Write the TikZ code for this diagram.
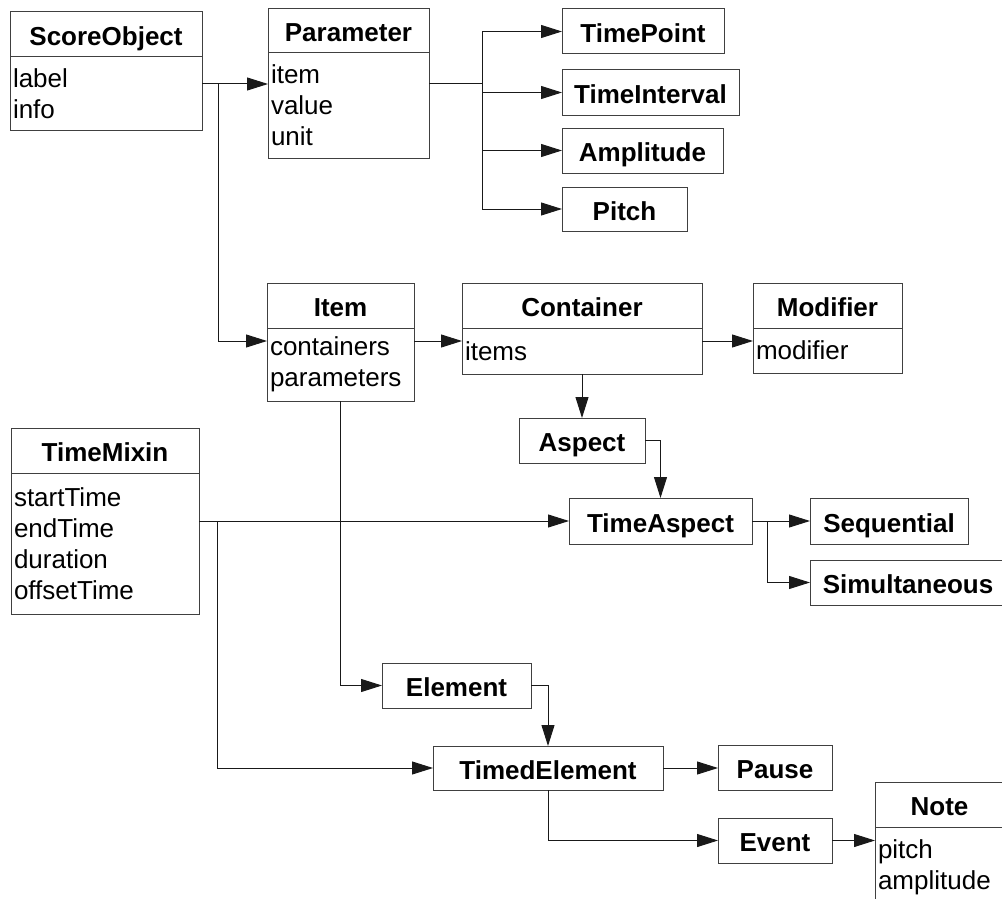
\documentclass[tikz,border=0pt]{standalone}
\usepackage{fontspec}
\setmainfont{Liberation Sans}
\usetikzlibrary{arrows.meta,positioning}

\begin{document}
\begin{tikzpicture}[x=1pt, y=-1pt, >={Triangle[length=21pt,width=13pt]},
    cls/.style={draw=black!75, line width=1pt, minimum height=45pt, inner sep=0pt, outer sep=0pt,
      text height=22pt, text depth=0pt,
      anchor=north west, font=\fontsize{26}{31}\selectfont\bfseries},
    attrs/.style={draw=black!75, line width=1pt, inner xsep=3pt, inner ysep=0pt, outer sep=0pt,
      align=left, font=\fontsize{26}{31}\selectfont},
    link/.style={draw=black!90, line width=1pt}]
    \useasboundingbox (0,0) rectangle (1002,899);
    \clip (0,0) rectangle (1002,899);

    % classes with attributes
    \node[cls, minimum width=192pt] (so) at (10,12) {ScoreObject};
    \node[attrs, text width=186pt, minimum height=73pt, below=0pt of so] (so-a) {label\\info\\[-3pt]};
    \node[cls, minimum width=161pt, minimum height=44pt] (par) at (268,9) {Parameter};
    \node[attrs, text width=155pt, minimum height=105pt, below=0pt of par] (par-a) {item\\value\\unit\\[-3pt]};
    \node[cls, minimum width=147pt] (item) at (267,283) {Item};
    \node[attrs, text width=141pt, minimum height=73pt, below=0pt of item] (item-a) {containers\\parameters};
    \node[cls, minimum width=240pt] (cont) at (462,283) {Container};
    \node[attrs, text width=234pt, minimum height=46pt, below=0pt of cont] (cont-a) {items};
    \node[cls, minimum width=149pt] (mod) at (753,283) {Modifier};
    \node[attrs, text width=143pt, minimum height=45pt, below=0pt of mod] (mod-a) {modifier};
    \node[cls, minimum width=188pt] (tm) at (11,428) {TimeMixin};
    \node[attrs, text width=182pt, minimum height=141pt, below=0pt of tm] (tm-a) {startTime\\endTime\\duration\\offsetTime};
    \node[cls, minimum width=129pt] (note) at (875,782) {Note};
    \node[attrs, text width=123pt, minimum height=80pt, below=0pt of note] (note-a) {pitch\\amplitude};

    % plain classes
    \node[cls, minimum width=162pt] (tp) at (562,9) {TimePoint};
    \node[cls, minimum width=177pt] (ti) at (562,70) {TimeInterval};
    \node[cls, minimum width=161pt] (amp) at (562,128) {Amplitude};
    \node[cls, minimum width=125pt, minimum height=44pt] (pitch) at (562,187) {Pitch};
    \node[cls, minimum width=126pt] (asp) at (519,418) {Aspect};
    \node[cls, minimum width=183pt, minimum height=46pt] (ta) at (569,498) {TimeAspect};
    \node[cls, minimum width=158pt, minimum height=46pt] (seq) at (810,498) {Sequential};
    \node[cls, minimum width=196pt] (sim) at (810,560) {Simultaneous};
    \node[cls, minimum width=149pt] (el) at (382,663) {Element};
    \node[cls, minimum width=230pt, minimum height=44pt] (te) at (433,746) {TimedElement};
    \node[cls, minimum width=114pt] (pause) at (718,745) {Pause};
    \node[cls, minimum width=114pt] (ev) at (718,818) {Event};

    % junctions
    \coordinate (j1) at (218,84);
    \coordinate (j2) at (482,84);
    \coordinate (j3) at (217,521);
    \coordinate (j4) at (767,521);
    \coordinate (rowc) at (0,341);

    \draw[link] (so-a.east |- j1) -- (j1);
    \draw[link,->] (j1) -- (par-a.west |- j1);
    \draw[link,->] (j1) |- (item-a.west |- rowc);
    \draw[link] (par-a.east |- j2) -- (j2);
    \foreach \n in {tp,ti,amp,pitch}
      \draw[link,->] (j2) |- (\n.west);
    \draw[link,->] (item-a.east |- rowc) -- (cont-a.west |- rowc);
    \draw[link,->] (cont-a.east |- rowc) -- (mod-a.west |- rowc);
    \draw[link,->] (asp.north |- cont-a.south) -- (asp.north);
    \draw[link,->] (asp.east) -| (ta.north);
    \draw[link] (tm-a.east |- j3) -- (j3);
    \draw[link,->] (j3) -- (ta.west);
    \draw[link,->] (j3) |- (te.west);
    \draw[link,->] (ta.east) -- (seq.west);
    \draw[link,->] (j4) |- (sim.west);
    \draw[link,->] (item-a.south) |- (el.west);
    \draw[link,->] (el.east) -| (te.north);
    \draw[link,->] (te.east) -- (pause.west |- te.east);
    \draw[link,->] (te.south) |- (ev.west);
    \draw[link,->] (ev.east) -- (note-a.west |- ev.east);
\end{tikzpicture}
\end{document}
